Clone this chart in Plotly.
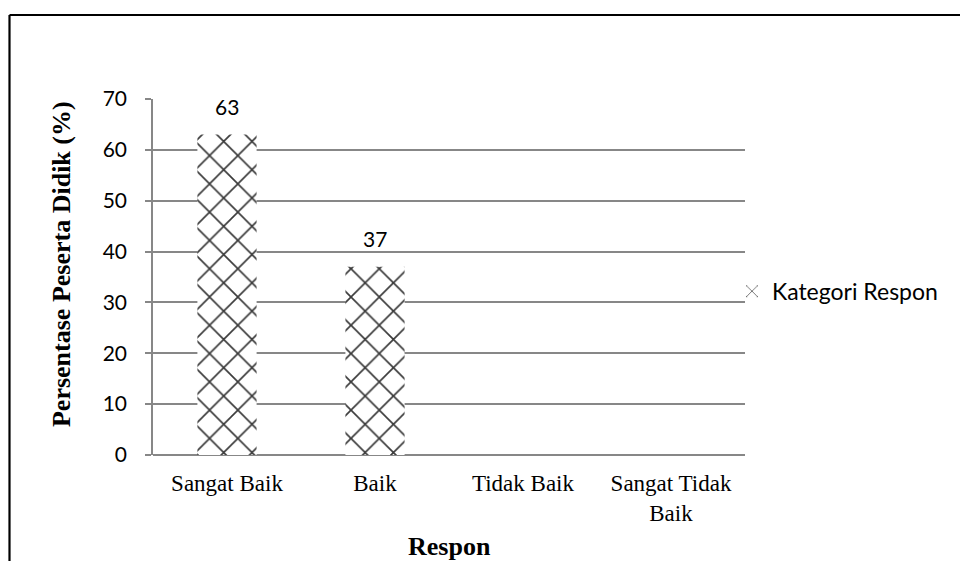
import plotly.graph_objects as go

# Survey response categories and percentage of students per category
categories = ["Sangat Baik", "Baik", "Tidak Baik", "Sangat Tidak<br>Baik"]
percentages = [63, 37, 0, 0]
series_name = "Kategori Respon"
y_ticks = [0, 10, 20, 30, 40, 50, 60, 70]

SANS = "Lato, 'Open Sans', sans-serif"
SERIF = "'Liberation Serif', 'Times New Roman', serif"
GRID = "#878787"

fig = go.Figure()
fig.add_trace(go.Bar(
    x=categories,
    y=percentages,
    name=series_name,
    width=0.4,
    marker=dict(
        color="white",
        line=dict(width=0),
        pattern=dict(shape="x", size=20, solidity=0.16,
                     fgcolor="#3a3a3a", bgcolor="white", fillmode="replace"),
    ),
    showlegend=True,
))

# Value labels above the non-zero bars
for cat, val in zip(categories, percentages):
    if val > 0:
        fig.add_annotation(x=cat, y=val, text=str(val), showarrow=False,
                           yanchor="bottom", yshift=14,
                           font=dict(family=SANS, size=21, color="black"))

# Axis titles
fig.add_annotation(x=0.5, y=-0.258, xref="paper", yref="paper",
                   xanchor="center", yanchor="middle",
                   text="<b>Respon</b>", showarrow=False,
                   font=dict(family=SERIF, size=26, color="black"))
fig.add_annotation(x=-0.1554, y=0.5365, xref="paper", yref="paper",
                   xanchor="center", yanchor="middle", textangle=-90,
                   text="<b>Persentase Peserta Didik (%)</b>", showarrow=False,
                   font=dict(family=SERIF, size=26, color="black"))

# Outer frame (left and top edges)
fig.add_shape(type="line", xref="paper", yref="paper",
              x0=-0.2424, x1=-0.2424, y0=1.236, y1=-0.35,
              line=dict(color="black", width=2.2))
fig.add_shape(type="line", xref="paper", yref="paper",
              x0=-0.2424, x1=1.4, y0=1.236, y1=1.236,
              line=dict(color="black", width=2.2))

fig.update_layout(
    width=960, height=561,
    margin=dict(l=153, r=215, t=99, b=106),
    paper_bgcolor="white", plot_bgcolor="white",
    bargap=0.6,
    showlegend=True,
    legend=dict(x=0.978, y=0.46, xanchor="left", yanchor="middle",
                font=dict(family=SANS, size=23, color="black"),
                itemwidth=30, bgcolor="rgba(0,0,0,0)"),
    xaxis=dict(
        showgrid=False, showline=False, zeroline=False,
        ticks="", ticklabelstandoff=12,
        tickfont=dict(family=SERIF, size=23, color="black"),
    ),
    yaxis=dict(
        range=[0, 70], tickvals=y_ticks,
        showgrid=True, gridcolor=GRID, gridwidth=1.5,
        showline=True, linecolor=GRID, linewidth=1.5,
        zeroline=True, zerolinecolor=GRID, zerolinewidth=1.5,
        ticks="outside", ticklen=6, tickcolor=GRID, tickwidth=1.5,
        ticklabelstandoff=14,
        tickfont=dict(family=SANS, size=21, color="black"),
    ),
)

fig.write_html("out.html")
